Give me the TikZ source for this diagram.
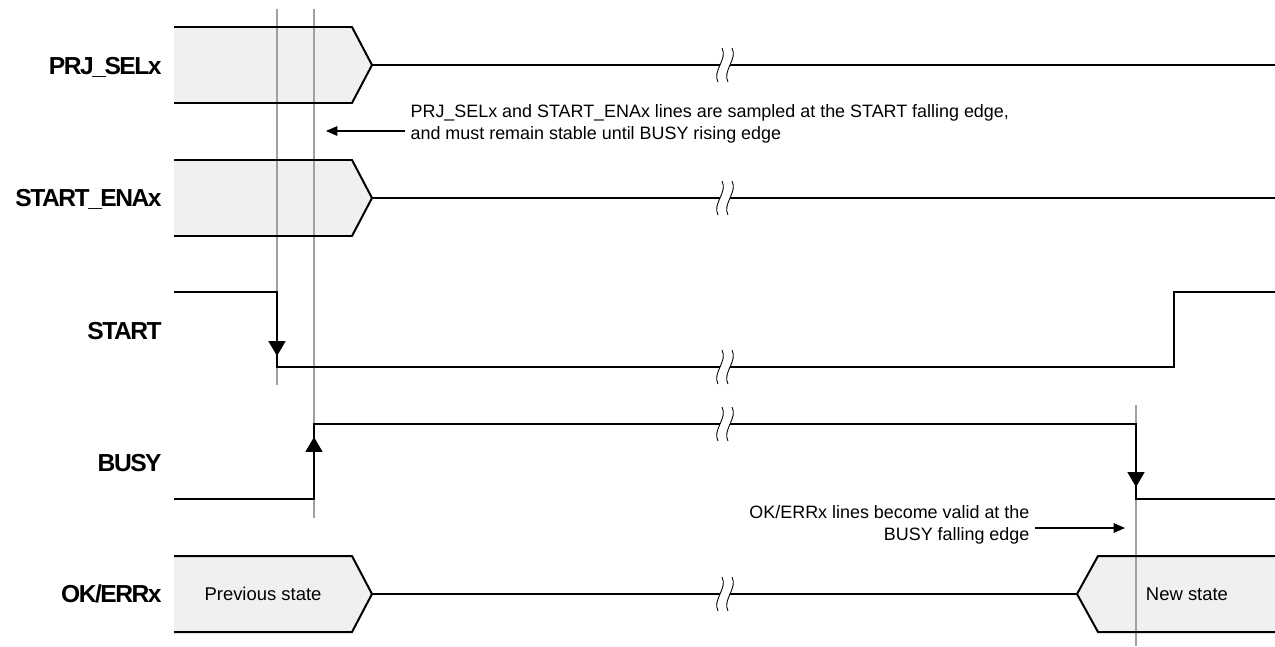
\documentclass[tikz,border=0pt]{standalone}
\usepackage{fontspec}
\setmainfont{Liberation Sans}
\newfontfamily\lblfont{Liberation Sans}[LetterSpace=-6]
\usepackage{xcolor}
\usetikzlibrary{arrows.meta,positioning}

\definecolor{busfill}{HTML}{F0F0F0}
\definecolor{markgray}{HTML}{A0A0A0}

\begin{document}
\begin{tikzpicture}[
      x=0.02cm, y=-0.02cm,
      signame/.style={
        anchor=base east,
        inner sep=0pt,
        font=\lblfont\bfseries\fontsize{14}{16}\selectfont
      },
      note/.style={
        inner sep=0pt,
        inner xsep=3pt,
        font=\fontsize{10.2}{12.5}\selectfont
      },
      statetxt/.style={inner sep=0pt, font=\fontsize{10.5}{12}\selectfont},
      wave/.style={line width=1.13pt},
      busshape/.style={fill=busfill},
      marker/.style={draw=markgray, line width=0.6pt},
      edgetip/.style={-{Triangle[length=8.5pt,width=9.6pt]}, line width=1.13pt},
      pointer/.style={-{Triangle[length=6.5pt,width=5.5pt]}, line width=0.6pt},
      breakmark/.style={line width=0.5pt}
    ]
      \path[use as bounding box] (0,0) rectangle (1275,646);

      % Signal names
      \node[signame] (lprj) at (162,74) {PRJ\_SELx};
      \node[signame] (lena) at (162,206) {START\_ENAx};
      \node[signame] (lstart) at (162,339) {START};
      \node[signame] (lbusy) at (162,471) {BUSY};
      \node[signame] (lok) at (162,602) {OK/ERRx};

      % Bus fills
      \path[busshape] (174,27) -- (352,27) -- (372,65) -- (352,103) -- (174,103) -- cycle;
      \path[busshape] (174,160) -- (352,160) -- (372,198) -- (352,236) -- (174,236) -- cycle;
      \path[busshape] (174,556) -- (352,556) -- (372,594) -- (352,632) -- (174,632) -- cycle;
      \path[busshape] (1275,556) -- (1098,556) -- (1077,594) -- (1098,632) -- (1275,632) -- cycle;

      % Sampling markers
      \draw[marker] (277,9) -- (277,385);
      \draw[marker] (314,9) -- (314,518);
      \draw[marker] (1136,405) -- (1136,646);

      % Waveforms
      \draw[wave] (174,27) -- (352,27) -- (372,65) -- (352,103) -- (174,103);
      \draw[wave] (372,65) -- (1275,65);
      \draw[wave] (174,160) -- (352,160) -- (372,198) -- (352,236) -- (174,236);
      \draw[wave] (372,198) -- (1275,198);
      \draw[wave] (174,292) -- (277,292) -- (277,367) -- (1174,367) -- (1174,292) -- (1275,292);
      \draw[edgetip] (277,330) -- (277,356);
      \draw[wave] (174,499) -- (314,499) -- (314,424) -- (1136,424) -- (1136,499) -- (1275,499);
      \draw[edgetip] (314,470) -- (314,437);
      \draw[edgetip] (1136,450) -- (1136,487);
      \draw[wave] (174,556) -- (352,556) -- (372,594) -- (352,632) -- (174,632);
      \draw[wave] (372,594) -- (1077,594);
      \draw[wave] (1275,556) -- (1098,556) -- (1077,594) -- (1098,632) -- (1275,632);

      % Time breaks
      \foreach \yb in {65,198,367,424,594} {
        \fill[white] (722,\yb-17) .. controls (728,\yb-6) and (712,\yb+6) .. (718,\yb+17)
          -- (728,\yb+17) .. controls (722,\yb+6) and (738,\yb-6) .. (732,\yb-17) -- cycle;
        \draw[breakmark] (722,\yb-17) .. controls (728,\yb-6) and (712,\yb+6) .. (718,\yb+17);
        \draw[breakmark] (732,\yb-17) .. controls (738,\yb-6) and (722,\yb+6) .. (728,\yb+17);
      }

      % State texts
      \node[statetxt] (prev) at (263,594) {Previous state};
      \node[statetxt] (new) at (1187,594) {New state};

      % Notes
      \node[note, anchor=west, align=left] (note1) at (405,124)
        {PRJ\_SELx and START\_ENAx lines are sampled at the START falling edge,\\
         and must remain stable until BUSY rising edge};
      \coordinate (tip1) at (326,131);
      \draw[pointer] (note1.west |- tip1) -- (tip1);

      \node[note, anchor=east, align=right] (note2) at (1035,525)
        {OK/ERRx lines become valid at the\\ BUSY falling edge};
      \coordinate (tip2) at (1125,528);
      \draw[pointer] (note2.east |- tip2) -- (tip2);
    \end{tikzpicture}
\end{document}
